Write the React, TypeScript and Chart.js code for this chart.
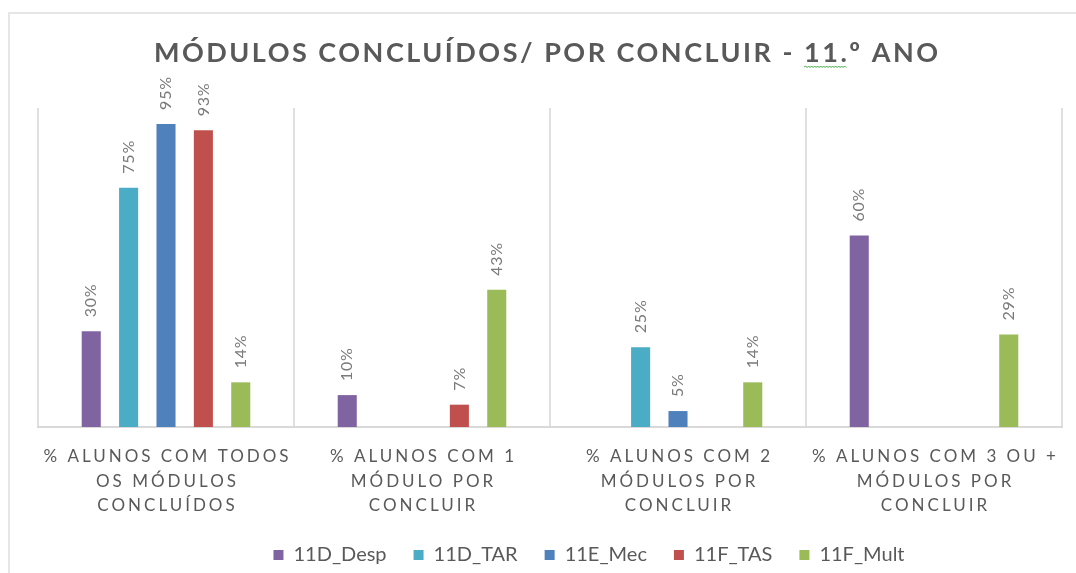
import React, { useEffect, useRef } from "react";
import { Chart, registerables } from "chart.js";

Chart.register(...registerables);

const TITLE = "MÓDULOS CONCLUÍDOS/ POR CONCLUIR - 11.º ANO";
const TITLE_SQUIGGLE_PREFIX = "MÓDULOS CONCLUÍDOS/ POR CONCLUIR - ";
const TITLE_SQUIGGLE_WORD = "11.";

const categories: string[][] = [
  ["% ALUNOS COM TODOS", "OS MÓDULOS", "CONCLUÍDOS"],
  ["% ALUNOS COM 1", "MÓDULO POR", "CONCLUIR"],
  ["% ALUNOS COM 2", "MÓDULOS POR", "CONCLUIR"],
  ["% ALUNOS COM 3 OU +", "MÓDULOS POR", "CONCLUIR"],
];

const seriesNames = ["11D_Desp", "11D_TAR", "11E_Mec", "11F_TAS", "11F_Mult"];
const desp = [30, 10, null, 60];
const tar = [75, null, 25, null];
const mec = [95, null, 5, null];
const tas = [93, 7, null, null];
const mult = [14, 43, 14, 29];
const seriesValues = [desp, tar, mec, tas, mult];
const seriesColors = ["#8064A2", "#4BACC6", "#4F81BD", "#C0504D", "#9BBB59"];

const Y_MIN = 0;
const Y_MAX = 100;

const FONT = "Lato, 'Liberation Sans', sans-serif";

const textPlugin = {
  id: "customText",
  afterLayout(chart: any) {
    const lg = chart.legend;
    if (lg) {
      const dx = 39;
      const dy = 2;
      lg.left += dx;
      lg.right += dx;
      lg.top += dy;
      lg.bottom += dy;
    }
  },
  afterDatasetsDraw(chart: any) {
    const ctx = chart.ctx;
    ctx.save();
    ctx.font = `16px ${FONT}`;
    ctx.fillStyle = "#7a7a7a";
    (ctx as any).letterSpacing = "0.8px";
    chart.data.datasets.forEach((ds: any, di: number) => {
      const meta = chart.getDatasetMeta(di);
      meta.data.forEach((bar: any, i: number) => {
        const v = ds.data[i];
        if (v == null) return;
        ctx.save();
        ctx.translate(bar.x, bar.y - 14);
        ctx.rotate(-Math.PI / 2);
        ctx.textAlign = "left";
        ctx.textBaseline = "middle";
        ctx.fillText(`${v}%`, 0, 0);
        ctx.restore();
      });
    });
    ctx.restore();
  },
  afterDraw(chart: any) {
    const ctx = chart.ctx;
    const area = chart.chartArea;
    const xs = chart.scales.x;
    // category labels
    ctx.save();
    const ls = 3;
    ctx.font = `17px ${FONT}`;
    ctx.fillStyle = "#595959";
    (ctx as any).letterSpacing = `${ls}px`;
    ctx.textAlign = "center";
    ctx.textBaseline = "middle";
    categories.forEach((lines, i) => {
      const cx = xs.getPixelForValue(i);
      lines.forEach((line, li) => {
        ctx.fillText(line, cx + ls / 2, area.bottom + 30 + li * 24.5);
      });
    });
    ctx.restore();

    // title
    ctx.save();
    const tls = 2.5;
    ctx.font = `bold 27px ${FONT}`;
    ctx.fillStyle = "#595959";
    (ctx as any).letterSpacing = `${tls}px`;
    ctx.textAlign = "left";
    ctx.textBaseline = "middle";
    const total = ctx.measureText(TITLE).width - tls;
    const tcx = chart.width / 2 + 8;
    const tx = tcx - total / 2;
    const ty = 53;
    ctx.fillText(TITLE, tx, ty);
    const pre = ctx.measureText(TITLE_SQUIGGLE_PREFIX).width;
    const ww = ctx.measureText(TITLE_SQUIGGLE_WORD).width - tls;
    ctx.strokeStyle = "#3aa53a";
    ctx.lineWidth = 1;
    ctx.beginPath();
    const sy = ty + 14;
    let up = true;
    ctx.moveTo(tx + pre, sy);
    for (let x = tx + pre + 1.5; x <= tx + pre + ww; x += 1.5) {
      ctx.lineTo(x, up ? sy - 1 : sy + 0.5);
      up = !up;
    }
    ctx.stroke();
    ctx.restore();
  },
};

export default function App() {
  const ref = useRef<HTMLCanvasElement | null>(null);

  useEffect(() => {
    if (!ref.current) return;
    const chart = new Chart(ref.current, {
      type: "bar",
      data: {
        labels: categories.map((c) => c.join(" ")),
        datasets: seriesNames.map((name, i) => ({
          label: name,
          data: seriesValues[i] as any,
          backgroundColor: seriesColors[i],
          borderWidth: 0,
          categoryPercentage: 0.73,
          barPercentage: 0.51,
        })),
      },
      options: {
        animation: false,
        responsive: false,
        layout: { padding: { left: 38, right: 14, top: 108, bottom: 0 } },
        plugins: {
          title: { display: false },
          tooltip: { enabled: false },
          legend: {
            display: true,
            position: "bottom",
            labels: {
              boxWidth: 10,
              boxHeight: 10,
              padding: 27,
              color: "#595959",
              font: { family: FONT, size: 20 },
            },
          },
        },
        scales: {
          x: {
            display: true,
            grid: {
              offset: true,
              color: "#e0e0e0",
              lineWidth: 2,
              drawTicks: false,
            },
            border: { display: true, color: "#d9d9d9", width: 2 },
            ticks: { display: false },
            afterFit: (scale: any) => {
              scale.height = 89;
            },
          },
          y: {
            display: false,
            min: Y_MIN,
            max: Y_MAX,
          },
        },
      },
      plugins: [textPlugin],
    });
    return () => chart.destroy();
  }, []);

  return (
    <div
      style={{
        position: "fixed",
        left: 0,
        top: 0,
        width: 1076,
        height: 573,
        background: "#ffffff",
        overflow: "hidden",
      }}
    >
      <div
        style={{
          position: "absolute",
          left: 8,
          top: 12,
          width: 1200,
          height: 700,
          borderLeft: "2px solid #e6e6e6",
          borderTop: "2px solid #e6e6e6",
        }}
      />
      <canvas
        ref={ref}
        width={1076}
        height={573}
        style={{ position: "absolute", left: 0, top: 0, display: "block" }}
      />
    </div>
  );
}
